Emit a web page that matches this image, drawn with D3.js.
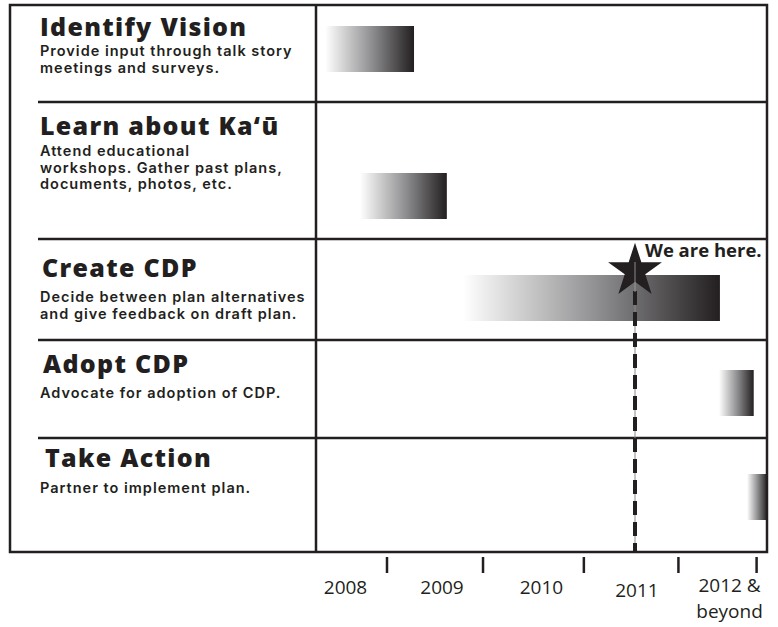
<!DOCTYPE html>
<html>
<head>
<meta charset="utf-8">
<script src="https://cdn.jsdelivr.net/npm/d3@7"></script>
<style>
  body { margin: 0; background: #fff; }
</style>
</head>
<body>
<div id="chart"></div>
<script>
// stages of the plan, with the notes under each title
var stages = ["Identify Vision", "Learn about Ka‘ū", "Create CDP", "Adopt CDP", "Take Action"];
var notes = [
  ["Provide input through talk story", "meetings and surveys."],
  ["Attend educational", "workshops. Gather past plans,", "documents, photos, etc."],
  ["Decide between plan alternatives", "and give feedback on draft plan."],
  ["Advocate for adoption of CDP."],
  ["Partner to implement plan."]
];
// when each stage runs (fractional years)
var barStart = [2008.36, 2008.72, 2009.79, 2012.44, 2012.73];
var barEnd = [2009.28, 2009.62, 2012.45, 2012.80, 2012.94];
// axis
var tickYears = [2009, 2009.995, 2011.04, 2012.02, 2012.83];
var yearLabels = [["2008"], ["2009"], ["2010"], ["2011"], ["2012 &", "beyond"]];
var labelYears = [2008.57, 2009.57, 2010.6, 2011.59, 2012.55];
var nowYear = 2011.57;
var nowLabel = "We are here.";

var width = 778, height = 627;
var ink = "#231f20";

// layout of the table
var box = { left: 10, top: 5, right: 767, bottom: 552 };
var divider = 316;
var rowTop = [5, 102, 239, 340, 438, 552];
var barOffset = [21, 71, 36, 30, 36];
var barH = 46;
var titleX = [40, 40, 42, 43, 45];
var titleY = [36, 135, 277, 373, 467];
var noteY = [56, 156, 302, 398, 493];
var labelY = [594, 594, 594, 597, 592];

var svg = d3.select("#chart")
  .append("svg")
  .attr("width", width)
  .attr("height", height);

var x = d3.scaleLinear()
  .domain([2008, 2013])
  .range([290.5, 773]);

var defs = svg.append("defs");
var grad = defs.append("linearGradient")
  .attr("id", "fade")
  .attr("x1", 0).attr("x2", 1)
  .attr("y1", 0).attr("y2", 0);
grad.append("stop").attr("offset", 0).attr("stop-color", "#ffffff");
grad.append("stop").attr("offset", 0.5).attr("stop-color", "#949496");
grad.append("stop").attr("offset", 1).attr("stop-color", ink);

// bars
svg.selectAll(".bar")
  .data(stages)
  .enter().append("rect")
  .attr("class", "bar")
  .attr("x", function(d, i) { return x(barStart[i]); })
  .attr("width", function(d, i) { return x(barEnd[i]) - x(barStart[i]); })
  .attr("y", function(d, i) { return rowTop[i] + barOffset[i]; })
  .attr("height", barH)
  .attr("fill", "url(#fade)");

// row separators
svg.selectAll(".sep")
  .data(rowTop.slice(1, 5))
  .enter().append("line")
  .attr("class", "sep")
  .attr("x1", 38).attr("x2", box.right)
  .attr("y1", function(d) { return d; })
  .attr("y2", function(d) { return d; })
  .attr("stroke", ink)
  .attr("stroke-width", 2.5);

// outer box + divider
svg.append("rect")
  .attr("x", box.left).attr("y", box.top)
  .attr("width", box.right - box.left)
  .attr("height", box.bottom - box.top)
  .attr("fill", "none")
  .attr("stroke", ink)
  .attr("stroke-width", 2.5);

svg.append("line")
  .attr("x1", divider).attr("x2", divider)
  .attr("y1", box.top).attr("y2", box.bottom)
  .attr("stroke", ink)
  .attr("stroke-width", 2.5);

// titles and notes
var rows = svg.selectAll(".row")
  .data(stages)
  .enter().append("g")
  .attr("class", "row");

rows.append("text")
  .attr("x", function(d, i) { return titleX[i]; })
  .attr("y", function(d, i) { return titleY[i]; })
  .style("font-family", "'Open Sans', 'Noto Sans', sans-serif")
  .style("font-weight", 800)
  .style("font-size", "25px")
  .style("letter-spacing", "1.3px")
  .attr("fill", ink)
  .text(function(d) { return d; });

rows.each(function(d, i) {
  d3.select(this).selectAll(".note")
    .data(notes[i])
    .enter().append("text")
    .attr("class", "note")
    .attr("x", 40)
    .attr("y", function(t, j) { return noteY[i] + j * 16.5; })
    .style("font-family", "Inter, 'Open Sans', sans-serif")
    .style("font-weight", 600)
    .style("font-size", "14.5px")
    .style("letter-spacing", "1px")
    .attr("fill", ink)
    .text(function(t) { return t; });
});

// "now" marker: thin guide + thick dashes + star
var nx = x(nowYear);
svg.append("line")
  .attr("x1", nx).attr("x2", nx)
  .attr("y1", 262).attr("y2", box.bottom)
  .attr("stroke", "#8a8a8a")
  .attr("stroke-width", 1);

svg.append("line")
  .attr("x1", nx).attr("x2", nx)
  .attr("y1", 291).attr("y2", box.bottom)
  .attr("stroke", ink)
  .attr("stroke-width", 4)
  .attr("stroke-dasharray", "14,7");

svg.append("path")
  .attr("d", d3.symbol().type(d3.symbolStar).size(900)())
  .attr("transform", "translate(" + nx + ",271)")
  .attr("fill", ink);

svg.append("line")
  .attr("x1", nx).attr("x2", nx)
  .attr("y1", 262).attr("y2", 292)
  .attr("stroke", "#8a8a8a")
  .attr("stroke-width", 1);

svg.append("text")
  .attr("x", 645)
  .attr("y", 257)
  .style("font-family", "'Open Sans', sans-serif")
  .style("font-weight", 700)
  .style("font-size", "18.5px")
  .attr("fill", ink)
  .text(nowLabel);

// year ticks under the box
svg.selectAll(".tick")
  .data(tickYears)
  .enter().append("line")
  .attr("class", "tick")
  .attr("x1", function(d) { return x(d); })
  .attr("x2", function(d) { return x(d); })
  .attr("y1", 557).attr("y2", 573)
  .attr("stroke", ink)
  .attr("stroke-width", 2.5);

var labels = svg.selectAll(".year")
  .data(yearLabels)
  .enter().append("text")
  .attr("class", "year")
  .attr("text-anchor", "middle")
  .attr("y", function(d, i) { return labelY[i]; })
  .style("font-family", "'Open Sans', sans-serif")
  .style("font-size", "19px")
  .attr("fill", ink);

labels.selectAll("tspan")
  .data(function(d, i) { return d.map(function(t) { return { t: t, i: i }; }); })
  .enter().append("tspan")
  .attr("x", function(d) { return x(labelYears[d.i]); })
  .attr("dy", function(d, j) { return j ? 26 : 0; })
  .text(function(d) { return d.t; });
</script>
</body>
</html>
